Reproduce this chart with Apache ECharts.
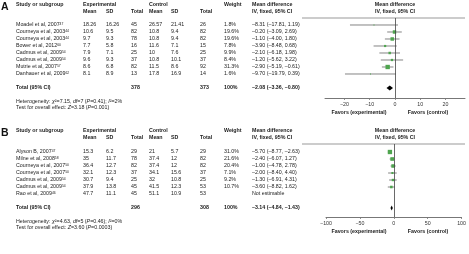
<!DOCTYPE html>
<html><head><meta charset="utf-8">
<script src="https://cdn.jsdelivr.net/npm/echarts@6/dist/echarts.min.js"></script>
<style>html,body{margin:0;padding:0;background:#fff}#c{width:469px;height:254px}</style>
</head><body><div id="c"></div>
<script>
// ---------- Panel A data ----------
const studiesA = ['Moadel et al, 2007','Courneya et al, 2003','Courneya et al, 2003','Bower et al, 2012','Cadmus et al, 2009','Cadmus et al, 2009','Mutrie et al, 2007','Danhauer et al, 2009'];
const refsA = ['47','44','44','60','54','54','57','62'];
const expMeanA = ['18.26','10.6','9.7','7.7','7.9','9.6','8.6','8.1'];
const expSdA = ['16.26','9.5','9.3','5.8','7.1','9.3','6.8','8.9'];
const expNA = ['45','82','78','16','25','37','82','13'];
const ctlMeanA = ['26.57','10.8','10.8','11.6','10','10.8','11.5','17.8'];
const ctlSdA = ['21.41','9.4','9.4','7.1','7.6','10.1','8.6','16.9'];
const ctlNA = ['26','82','82','15','25','37','92','14'];
const weightA = [1.8,19.6,19.6,7.8,9.9,8.4,31.3,1.6];
const mdA = [-8.31,-0.20,-1.10,-3.90,-2.10,-1.20,-2.90,-9.70];
const loA = [-17.81,-3.09,-4.00,-8.48,-6.18,-5.62,-5.19,-19.79];
const hiA = [1.19,2.69,1.80,0.68,1.98,3.22,-0.61,0.39];
const totalNA = ['378','373'];
const totalMdA = [-2.08,-3.36,-0.80];
const ticksA = [-20,-10,0,10,20];
const hetA = ['7.15','7','0.41','2%'];
const testA = ['3.18','0.001'];

// ---------- Panel B data ----------
const studiesB = ['Alyson B, 2007','Milne et al, 2008','Courneya et al, 2007','Courneya et al, 2007','Cadmus et al, 2009','Cadmus et al, 2009','Rao et al, 2009'];
const refsB = ['47','58','50','50','54','54','46'];
const expMeanB = ['15.3','35','36.4','32.1','30.7','37.9','47.7'];
const expSdB = ['6.2','11.7','12.7','12.3','9.4','13.8','11.1'];
const expNB = ['29','78','82','37','25','45','45'];
const ctlMeanB = ['21','37.4','37.4','34.1','32','41.5','51.1'];
const ctlSdB = ['5.7','12','12','15.6','10.8','12.3','10.9'];
const ctlNB = ['29','82','82','37','25','53','53'];
const weightB = [31.0,21.6,20.4,7.1,9.2,10.7,null];
const mdB = [-5.70,-2.40,-1.00,-2.00,-1.30,-3.60,null];
const loB = [-8.77,-6.07,-4.78,-8.40,-6.91,-8.82,null];
const hiB = [-2.63,1.27,2.78,4.40,4.31,1.62,null];
const totalNB = ['296','308'];
const totalMdB = [-3.14,-4.84,-1.43];
const ticksB = [-100,-50,0,50,100];
const hetB = ['4.63','5','0.46','0%'];
const testB = ['3.60','0.0003'];

// ---------- styling ----------
const FF = "'Liberation Sans', Arial, sans-serif";
const FS = 5.3;
const TXT = '#222';
const GREEN = '#4fa54f';
const LINE = '#666';
const dash = v => (v < 0 ? '\u2013' : '') + Math.abs(v).toFixed(2);
const ciText = (m, l, h) => `${dash(m)} (${dash(l)}, ${dash(h)})`;

function forestSeries(gi, md, lo, hi, w, total, totalRow) {
  const rows = [];
  md.forEach((m, i) => { if (m !== null) rows.push([i, m, lo[i], hi[i], w[i]]); });
  return [
    {
      type: 'custom', xAxisIndex: gi, yAxisIndex: gi, data: rows, silent: true,
      encode: { x: [1, 2, 3], y: 0 },
      renderItem(p, api) {
        const i = api.value(0);
        const a = api.coord([api.value(2), i]), b = api.coord([api.value(3), i]), c = api.coord([api.value(1), i]);
        const s = 0.78 * Math.sqrt(api.value(4));
        return { type: 'group', children: [
          { type: 'line', shape: { x1: a[0], y1: a[1], x2: b[0], y2: b[1] }, style: { stroke: LINE, lineWidth: 0.8 } },
          { type: 'rect', shape: { x: c[0] - s / 2, y: c[1] - s / 2, width: s, height: s }, style: { fill: GREEN } }
        ]};
      },
      markLine: { silent: true, symbol: 'none', animation: false, label: { show: false },
        lineStyle: { color: '#444', width: 0.8, type: 'solid' }, data: [{ xAxis: 0 }] }
    },
    {
      type: 'custom', xAxisIndex: gi, yAxisIndex: gi, silent: true,
      data: [[totalRow, total[0], total[1], total[2]]],
      encode: { x: [1, 2, 3], y: 0 },
      renderItem(p, api) {
        const i = api.value(0);
        const m = api.coord([api.value(1), i]), l = api.coord([api.value(2), i]), h = api.coord([api.value(3), i]);
        const hh = 2.6;
        return { type: 'polygon', shape: { points: [[l[0], m[1]], [m[0], m[1] - hh], [h[0], m[1]], [m[0], m[1] + hh]] },
          style: { fill: '#000' } };
      }
    }
  ];
}

function xAxisDef(gi, min, max, ticks) {
  return {
    gridIndex: gi, type: 'value', min, max,
    axisLine: { show: true, onZero: false, lineStyle: { color: '#777', width: 1 } },
    axisTick: { show: true, customValues: ticks, length: 2, lineStyle: { color: '#777', width: 0.8 } },
    axisLabel: { customValues: ticks, fontSize: FS, fontFamily: FF, color: '#333', margin: 4,
      formatter: v => (v < 0 ? '\u2212' + Math.abs(v) : String(v)) },
    splitLine: { show: false }
  };
}

const chart = echarts.init(document.getElementById('c'), null, { renderer: 'canvas' });
chart.setOption({
  animation: false,
  grid: [
    { left: 325, width: 140, top: 18, height: 80 },
    { left: 326, width: 137, top: 144, height: 73 }
  ],
  xAxis: [xAxisDef(0, -27.7, 27.7, ticksA), xAxisDef(1, -100, 100, ticksB)],
  yAxis: [
    { gridIndex: 0, type: 'value', min: -1, max: 10.43, inverse: true, show: false },
    { gridIndex: 1, type: 'value', min: -8 / 7, max: 73 / 7 - 8 / 7, inverse: true, show: false }
  ],
  series: [
    ...forestSeries(0, mdA, loA, hiA, weightA, totalMdA, 9),
    ...forestSeries(1, mdB, loB, hiB, weightB, totalMdB, 8)
  ]
});

// ---------- table text ----------
const G = [];
function T(x, y, text, o = {}) {
  G.push({ type: 'text', x, y, silent: true, style: Object.assign({
    text, fill: TXT, fontSize: FS, fontFamily: FF, align: 'left', verticalAlign: 'middle',
    rich: { s: { fontSize: 3.4, fontFamily: FF, fill: TXT, verticalAlign: 'top', padding: [0, 0, 2, 0] },
            i: { fontSize: FS, fontFamily: FF, fill: TXT, fontStyle: 'italic' } }
  }, o) });
}
const COL = { study: 16, em: 83, esd: 106, en: 131, cm: 149, csd: 171, cn: 200, w: 224, md: 252 };
const B = { fontWeight: 'bold' };

function panel(gi, letter, studies, refs, em, esd, en, cm, csd, cn, w, md, lo, hi, totN, totMd, totalRow, het, test) {
  const y = i => chart.convertToPixel({ gridIndex: gi }, [0, i])[1];
  const top = y(-1e-9) - (y(0) - y(-1e-9)) * 0; // grid top row reference
  const gridTop = chart.convertToPixel({ gridIndex: gi }, [0, gi === 0 ? -1 : -8 / 7])[1];
  const axisY = chart.convertToPixel({ gridIndex: gi }, [0, gi === 0 ? 10.43 : 73 / 7 - 8 / 7])[1];
  const h1 = gridTop - 13, h2 = gridTop - 6;
  G.push({ type: 'text', x: 1, y: gridTop - 16, silent: true,
    style: { text: letter, fontSize: 10.5, fontWeight: 'bold', fontFamily: FF, fill: '#111', verticalAlign: 'top' } });
  T(COL.study, h1, 'Study or subgroup', B);
  T(COL.em, h1, 'Experimental', B);
  T(COL.cm, h1, 'Control', B);
  T(COL.w, h1, 'Weight', B);
  T(COL.md, h1, 'Mean difference', B);
  T(COL.em, h2, 'Mean', B); T(COL.esd, h2, 'SD', B); T(COL.en, h2, 'Total', B);
  T(COL.cm, h2, 'Mean', B); T(COL.csd, h2, 'SD', B); T(COL.cn, h2, 'Total', B);
  T(COL.md, h2, 'IV, fixed, 95% CI', B);
  T(395, h1, 'Mean difference', Object.assign({ align: 'center' }, B));
  T(395, h2, 'IV, fixed, 95% CI', Object.assign({ align: 'center' }, B));
  G.push({ type: 'line', silent: true, shape: { x1: 302, y1: gridTop, x2: 465, y2: gridTop },
    style: { stroke: '#999', lineWidth: 1 } });
  studies.forEach((s, i) => {
    const yy = y(i);
    T(COL.study, yy, s + '{s|' + refs[i] + '}');
    T(COL.em, yy, em[i]); T(COL.esd, yy, esd[i]); T(COL.en, yy, en[i]);
    T(COL.cm, yy, cm[i]); T(COL.csd, yy, csd[i]); T(COL.cn, yy, cn[i]);
    if (md[i] !== null) {
      T(COL.w, yy, w[i].toFixed(1) + '%');
      T(COL.md, yy, ciText(md[i], lo[i], hi[i]));
    } else {
      T(COL.md, yy, 'Not estimable');
    }
  });
  const ty = y(totalRow);
  T(COL.study, ty, 'Total (95% CI)', B);
  T(COL.en, ty, totN[0], B);
  T(COL.cn, ty, totN[1], B);
  T(COL.w, ty, '100%', B);
  T(COL.md, ty, ciText(totMd[0], totMd[1], totMd[2]), B);
  T(COL.study, ty + 14, 'Heterogeneity: {i|\u03c7}\u00b2=' + het[0] + ', {i|df}=' + het[1] + ' ({i|P}=' + het[2] + '); {i|I}\u00b2=' + het[3]);
  T(COL.study, ty + 20, 'Test for overall effect: {i|Z}=' + test[0] + ' ({i|P}=' + test[1] + ')');
  T(359, axisY + 15, 'Favors (experimental)', Object.assign({ align: 'center' }, B));
  T(428, axisY + 15, 'Favors (control)', Object.assign({ align: 'center' }, B));
}

panel(0, 'A', studiesA, refsA, expMeanA, expSdA, expNA, ctlMeanA, ctlSdA, ctlNA, weightA, mdA, loA, hiA, totalNA, totalMdA, 9, hetA, testA);
panel(1, 'B', studiesB, refsB, expMeanB, expSdB, expNB, ctlMeanB, ctlSdB, ctlNB, weightB, mdB, loB, hiB, totalNB, totalMdB, 8, hetB, testB);

chart.setOption({ graphic: G });
</script></body></html>
